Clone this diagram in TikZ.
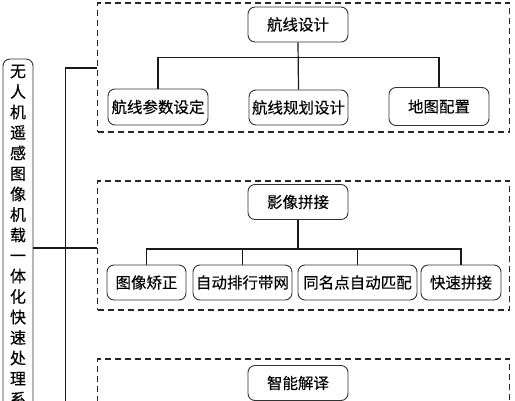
\documentclass[tikz,border=0pt]{standalone}
\usepackage{fontspec}
\setmainfont{Noto Sans CJK SC}[FakeBold=0.3]
\begin{document}
\begin{tikzpicture}[x=1pt,y=-1pt]
\tikzset{
 sub/.style={draw=black!80, line width=0.9pt, rounded corners=7pt, minimum height=35pt, inner sep=0pt, font=\fontsize{15.5}{18}\selectfont},
 grp/.style={draw=black!85, line width=1.1pt, dash pattern=on 6pt off 4pt, inner sep=0pt, minimum width=412pt, minimum height=129pt},
 link/.style={line width=1.2pt, draw=black!90},
 rootbox/.style={draw=black!80, line width=0.9pt, rounded corners=7pt, inner sep=0pt, minimum width=30pt, minimum height=421pt}
}
\useasboundingbox (0,0) rectangle (515,400);
\clip (0,0) rectangle (515,400);
% groups
\node[grp] (g1) at (303.5,67.5) {};
\node[grp] (g2) at (303.5,245.5) {};
\node[grp] (g3) at (303.5,423.5) {};
% root
\node[rootbox] (root) at (18,269.5) {};
\node[anchor=north, align=center, inner sep=0pt, font=\fontsize{16}{20.5}\selectfont] (rootlabel) at (18,64.5)
 {无\\人\\机\\遥\\感\\图\\像\\机\\载\\一\\体\\化\\快\\速\\处\\理\\系};
% group 1
\node[sub, minimum width=100pt] (t1) at (298,24.5) {航线设计};
\node[sub, minimum width=100pt, minimum height=36pt] (a1) at (158,107) {航线参数设定};
\node[sub, minimum width=99pt] (b1) at (298.5,107.5) {航线规划设计};
\node[sub, minimum width=100pt, minimum height=38pt] (c1) at (439,106.5) {地图配置};
% group 2
\node[sub, minimum width=100pt] (t2) at (298,202) {影像拼接};
\node[sub, minimum width=79pt] (d1) at (146.5,282.5) {图像矫正};
\node[sub, minimum width=99pt] (d2) at (242.5,282.5) {自动排行带网};
\node[sub, minimum width=119pt] (d3) at (357.5,282.5) {同名点自动匹配};
\node[sub, minimum width=80pt] (d4) at (461,282.5) {快速拼接};
% group 3
\node[sub, minimum width=100pt] (t3) at (298,383) {智能解译};
% trunk
\coordinate (j1) at (65.5,68);
\coordinate (j3) at (65.5,430);
\coordinate (bar1) at (0,57.5);
\coordinate (bar2) at (0,249);
\coordinate (lvl2) at (0,248);
\draw[link] (g1.west |- j1) -- (j1) -- (j3) -- (g3.west |- j3);
\draw[link] (root.east |- lvl2) -- (g2.west |- lvl2);
% tree 1
\draw[link] (t1.south) -- (b1.north);
\draw[link] (a1.north) -- (a1.north |- bar1) -- (c1.north |- bar1) -- (c1.north);
% tree 2
\draw[link] (t2.south) -- (t2.south |- bar2);
\draw[link] (d1.north) -- (d1.north |- bar2) -- (d4.north |- bar2) -- (d4.north);
\draw[link] (d2.north) -- (d2.north |- bar2);
\draw[link] (d3.north) -- (d3.north |- bar2);
\end{tikzpicture}
\end{document}
